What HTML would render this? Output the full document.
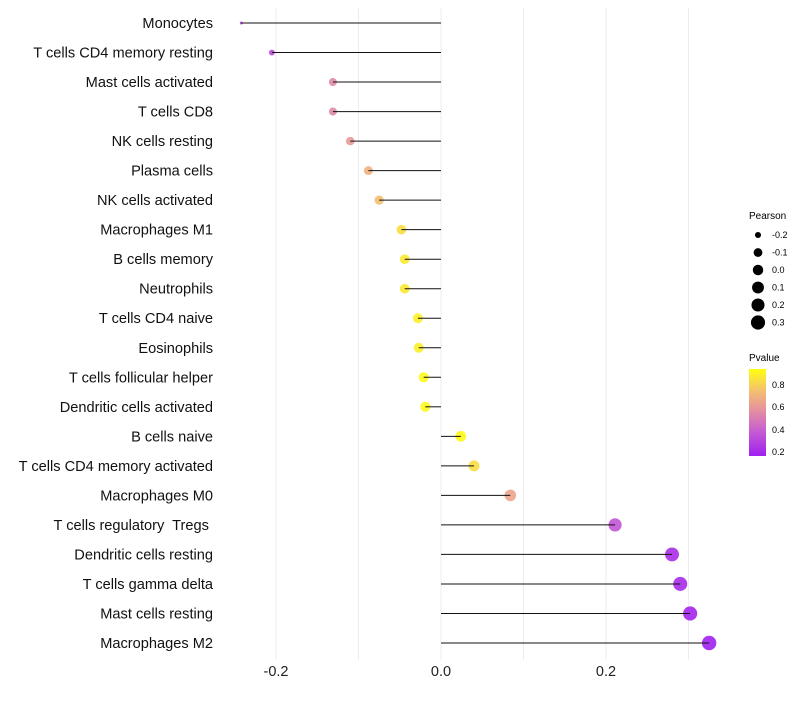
<!DOCTYPE html>
<html><head><meta charset="utf-8"><style>
body{margin:0;background:#fff;font-family:"Liberation Sans",sans-serif}
text{white-space:pre}
</style></head><body>
<svg id="chart" width="800" height="700" xmlns="http://www.w3.org/2000/svg">
<defs><linearGradient id="pg" x1="0" y1="1" x2="0" y2="0">
<stop offset="0" stop-color="#A020F0"/><stop offset="0.3" stop-color="#C860D0"/><stop offset="0.55" stop-color="#E8959A"/><stop offset="0.75" stop-color="#F4C070"/><stop offset="1" stop-color="#FFFF10"/></linearGradient></defs>
<g id="grid"></g><g id="marks"></g><g id="labels"></g>
<g font-size="9" fill="#000">
<text x="749" y="219" font-size="10">Pearson</text>
</g>
<g id="sizeleg"></g>
<g font-size="9">
<text x="749" y="361" font-size="10">Pvalue</text>
<rect x="749" y="369" width="17" height="87" fill="url(#pg)"/>
<text x="772" y="388">0.8</text><text x="772" y="410">0.6</text><text x="772" y="433">0.4</text><text x="772" y="455">0.2</text>
</g>
</svg>
<script>
const categories=["Monocytes","T cells CD4 memory resting","Mast cells activated","T cells CD8","NK cells resting","Plasma cells","NK cells activated","Macrophages M1","B cells memory","Neutrophils","T cells CD4 naive","Eosinophils","T cells follicular helper","Dendritic cells activated","B cells naive","T cells CD4 memory activated","Macrophages M0","T cells regulatory  Tregs ","Dendritic cells resting","T cells gamma delta","Mast cells resting","Macrophages M2"];
const pearson=[-0.242,-0.205,-0.131,-0.131,-0.110,-0.088,-0.075,-0.048,-0.044,-0.044,-0.028,-0.027,-0.021,-0.019,0.024,0.040,0.084,0.211,0.280,0.290,0.302,0.325];
const pvalue=[0.27,0.32,0.55,0.55,0.62,0.7,0.76,0.86,0.9,0.9,0.92,0.92,0.95,0.95,0.95,0.86,0.66,0.35,0.2,0.19,0.17,0.15];
const xTicks=[-0.2,0.0,0.2];
const xTickLabels=["-0.2","0.0","0.2"];
const sizeLegend=[-0.2,-0.1,0.0,0.1,0.2,0.3];
const sizeLegendLabels=["-0.2","-0.1","0.0","0.1","0.2","0.3"];
const NS="http://www.w3.org/2000/svg";
const x=v=>441+v*825;
const y=i=>23+i*(620/21);
const r=v=>1.5+5.7*Math.sqrt(Math.max(0,(v+0.242)/0.567));
const stops=[[0,[160,32,240]],[0.3,[200,96,208]],[0.55,[232,149,154]],[0.75,[244,192,112]],[1,[255,255,16]]];
function col(p){const t=Math.min(1,Math.max(0,(p-0.15)/(0.97-0.15)));
for(let k=1;k<stops.length;k++){if(t<=stops[k][0]){const a=stops[k-1],b=stops[k],u=(t-a[0])/(b[0]-a[0]);
return 'rgb('+a[1].map((c,j)=>Math.round(c+(b[1][j]-c)*u))+')';}}return 'rgb(255,255,16)';}
function mk(tag,at,parent){const e=document.createElementNS(NS,tag);for(const k in at)e.setAttribute(k,at[k]);parent.appendChild(e);return e;}
const grid=document.getElementById('grid'),marks=document.getElementById('marks'),labels=document.getElementById('labels');
[-0.2,-0.1,0,0.1,0.2,0.3].forEach(v=>{const l=mk('line',{x1:x(v),x2:x(v),y1:8,y2:660,stroke:'#ececec','stroke-width':1},grid);

});
xTicks.forEach((v,i)=>{const t=mk('text',{x:x(v),y:676,'text-anchor':'middle','font-size':14.5,fill:'#222'},labels);t.textContent=xTickLabels[i];

});
categories.forEach((c,i)=>{
const t=mk('text',{x:213,y:y(i)+5,'text-anchor':'end','font-size':14.6,fill:'#111'},labels);t.textContent=c;


const d=mk('circle',{cx:x(pearson[i]),cy:y(i),r:r(pearson[i]),fill:col(pvalue[i]),'fill-opacity':0.9},marks);


const l=mk('line',{x1:x(0),x2:x(pearson[i]),y1:y(i),y2:y(i),stroke:'#111','stroke-width':1},marks);

});
const sl=document.getElementById('sizeleg');
sizeLegend.forEach((v,i)=>{const cy=235+i*17.5;
const c=mk('circle',{cx:758,cy:cy,r:r(v),fill:'#000'},sl);


const t=mk('text',{x:772,y:cy+3,'font-size':9},sl);t.textContent=sizeLegendLabels[i];

});
</script>
</body></html>
